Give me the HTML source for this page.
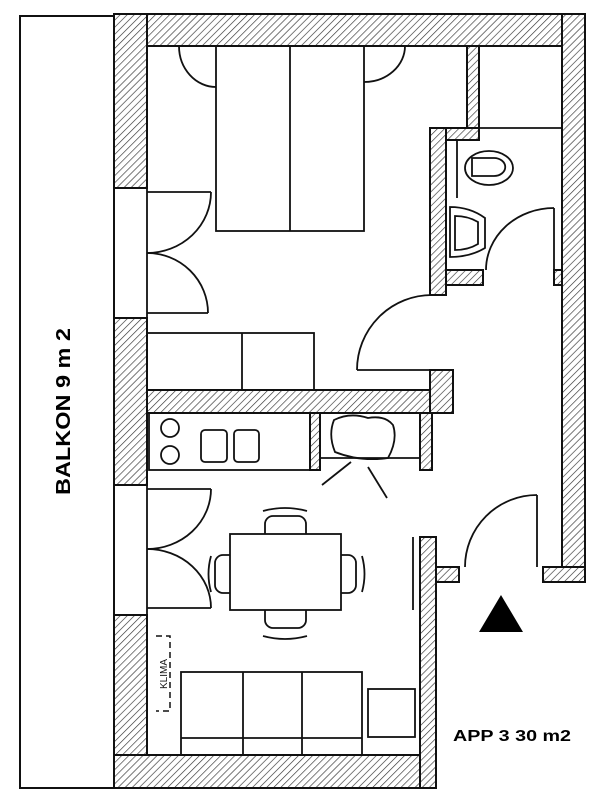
<!DOCTYPE html>
<html><head><meta charset="utf-8"><style>html,body{margin:0;padding:0;background:#fff}svg{display:block}</style></head>
<body>
<svg width="600" height="800" viewBox="0 0 600 800" xmlns="http://www.w3.org/2000/svg">
<defs>
<pattern id="h" patternUnits="userSpaceOnUse" width="5" height="5" patternTransform="rotate(45)">
<rect width="5" height="5" fill="#fff"/><line x1="0" y1="0" x2="0" y2="5" stroke="#333" stroke-width="1.3"/>
</pattern>
</defs>
<g fill="none" stroke="#111" stroke-width="2">
<rect x="20" y="16" width="94" height="772"/>
</g>
<g fill="url(#h)" stroke="#111" stroke-width="2">
<rect x="114" y="14" width="471" height="32"/>
<rect x="562" y="14" width="23" height="568"/>
<rect x="114" y="14" width="33" height="174"/>
<rect x="467" y="46" width="12" height="82"/>
<rect x="430" y="128" width="49" height="12"/>
<rect x="430" y="128" width="16" height="167"/>
<rect x="446" y="270" width="37" height="15"/>
<rect x="554" y="270" width="8" height="15"/>
<rect x="114" y="318" width="33" height="167"/>
<rect x="147" y="390" width="306" height="23"/>
<rect x="430" y="370" width="23" height="43"/>
<rect x="310" y="413" width="10" height="57"/>
<rect x="420" y="413" width="12" height="57"/>
<rect x="114" y="615" width="33" height="173"/>
<rect x="114" y="755" width="322" height="33"/>
<rect x="420" y="537" width="16" height="251"/>
<rect x="436" y="567" width="23" height="15"/>
<rect x="543" y="567" width="42" height="15"/>
</g>
<g fill="none" stroke="#111" stroke-width="1.8">
<line x1="479" y1="128" x2="562" y2="128"/>
<rect x="216" y="46" width="148" height="185"/>
<line x1="290" y1="46" x2="290" y2="231"/>
<path d="M179 46 A37 41 0 0 0 216 87"/>
<path d="M364 82 A41 36 0 0 0 405 46"/>
<line x1="147" y1="188" x2="147" y2="318"/>
<line x1="147" y1="192" x2="211" y2="192"/>
<path d="M211 192 A64 61 0 0 1 147 253"/>
<path d="M147 253 A61 60 0 0 1 208 313"/>
<line x1="147" y1="313" x2="208" y2="313"/>
<line x1="457" y1="140" x2="457" y2="198"/>
<ellipse cx="489" cy="168" rx="24" ry="17"/>
<path d="M472 158 h22 a10 8 0 0 1 0 18 h-22 z"/>
<path d="M450 207 Q470 207 485 218 L485 248 Q470 257 450 257 Z"/>
<path d="M455 216 Q468 216 478 222 L478 244 Q468 250 455 250 Z"/>
<line x1="554" y1="208" x2="554" y2="270"/>
<path d="M554 208 A68 62 0 0 0 486 270"/>
<line x1="357" y1="370" x2="432" y2="370"/>
<path d="M357 370 A75 75 0 0 1 432 295"/>
<rect x="147" y="333" width="167" height="57"/>
<line x1="242" y1="333" x2="242" y2="390"/>
<rect x="149" y="413" width="161" height="57"/>
<circle cx="170" cy="428" r="9"/>
<circle cx="170" cy="455" r="9"/>
<rect x="201" y="430" width="26" height="32" rx="4"/>
<rect x="234" y="430" width="25" height="32" rx="4"/>
<line x1="320" y1="458" x2="420" y2="458"/>
<path d="M334 420 Q350 412 368 418 Q385 415 393 425 Q398 440 388 458 Q360 462 335 452 Q328 435 334 420 Z"/>
<line x1="322" y1="485" x2="351" y2="462"/>
<line x1="368" y1="467" x2="387" y2="498"/>
<line x1="147" y1="485" x2="147" y2="615"/>
<line x1="147" y1="489" x2="211" y2="489"/>
<path d="M211 489 A64 60 0 0 1 147 549"/>
<path d="M147 549 A64 59 0 0 1 211 608"/>
<line x1="147" y1="608" x2="211" y2="608"/>
<rect x="230" y="534" width="111" height="76"/>
<path d="M265 534 v-10 a8 8 0 0 1 8 -8 h25 a8 8 0 0 1 8 8 v10"/>
<path d="M265 610 v10 a8 8 0 0 0 8 8 h25 a8 8 0 0 0 8 -8 v-10"/>
<path d="M230 555 h-7 a8 8 0 0 0 -8 8 v22 a8 8 0 0 0 8 8 h7"/>
<path d="M341 555 h7 a8 8 0 0 1 8 8 v22 a8 8 0 0 1 -8 8 h-7"/>
<path d="M263 511 Q285 505 307 511"/>
<path d="M263 636 Q285 642 307 636"/>
<path d="M211 556 Q206 574 211 592"/>
<path d="M362 556 Q367 574 362 592"/>
<line x1="413" y1="537" x2="413" y2="610"/>
<line x1="537" y1="495" x2="537" y2="567"/>
<path d="M537 495 A72 72 0 0 0 465 567"/>
<rect x="181" y="672" width="181" height="83"/>
<line x1="243" y1="672" x2="243" y2="755"/>
<line x1="302" y1="672" x2="302" y2="755"/>
<line x1="181" y1="738" x2="362" y2="738"/>
<rect x="368" y="689" width="47" height="48"/>
<path d="M156 636 h14 v75 h-14" stroke-dasharray="6 4" stroke-width="1.5"/>
</g>
<polygon points="501,595 479,632 523,632" fill="#000"/>
<text transform="translate(167,674) rotate(-90)" text-anchor="middle" font-family="Liberation Sans, sans-serif" font-size="10" fill="#111">KLIMA</text>
<text transform="translate(70,495) rotate(-90)" font-family="Liberation Sans, sans-serif" font-weight="bold" font-size="20" textLength="167" lengthAdjust="spacingAndGlyphs" fill="#000">BALKON 9 m 2</text>
<text x="453" y="741" font-family="Liberation Sans, sans-serif" font-weight="bold" font-size="16" textLength="118" lengthAdjust="spacingAndGlyphs" fill="#000">APP 3  30 m2</text>
</svg>
</body></html>
